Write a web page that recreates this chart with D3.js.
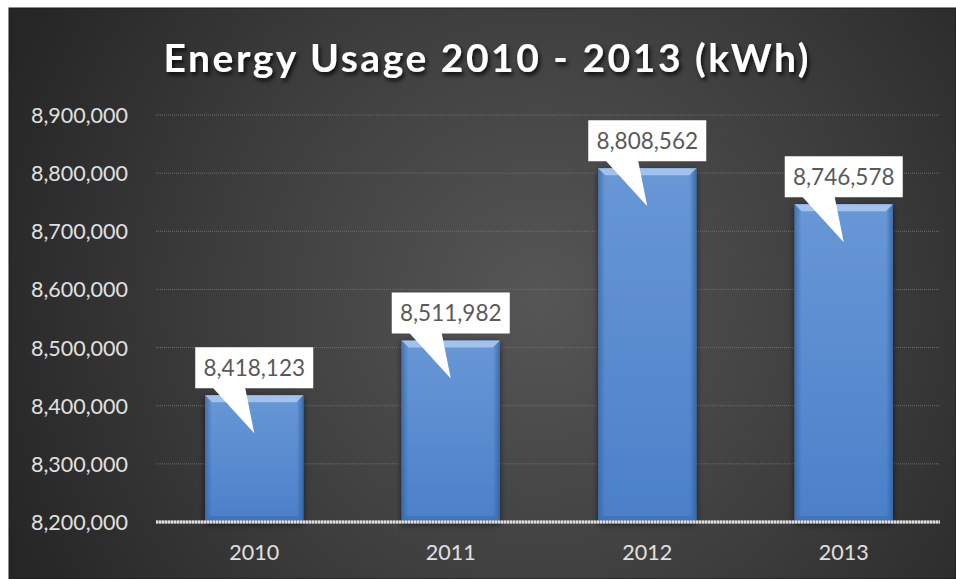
<!DOCTYPE html>
<html>
<head>
<meta charset="utf-8">
<script src="https://cdn.jsdelivr.net/npm/d3@7"></script>
<style>
  html, body { margin: 0; padding: 0; background: #ffffff; }
  svg { display: block; }
</style>
</head>
<body>
<svg id="chart" width="956" height="579"></svg>
<script>
const categories = ["2010", "2011", "2012", "2013"];
const values = [8418123, 8511982, 8808562, 8746578];
const yTicks = [8200000, 8300000, 8400000, 8500000, 8600000, 8700000, 8800000, 8900000];
const titleText = "Energy Usage 2010 - 2013 (kWh)";

const svg = d3.select("#chart");
const frame = { x: 9, y: 8, w: 947, h: 571 };
const plot = { left: 156, right: 942, top: 115, bottom: 522 };

const defs = svg.append("defs");
const bg = defs.append("radialGradient").attr("id", "bg")
  .attr("gradientUnits", "userSpaceOnUse")
  .attr("cx", 540).attr("cy", 300).attr("r", 580);
bg.append("stop").attr("offset", "0%").attr("stop-color", "#565656");
bg.append("stop").attr("offset", "55%").attr("stop-color", "#3d3d3d");
bg.append("stop").attr("offset", "100%").attr("stop-color", "#262626");

const barGrad = defs.append("linearGradient").attr("id", "barGrad")
  .attr("x1", 0).attr("y1", 0).attr("x2", 0).attr("y2", 1);
barGrad.append("stop").attr("offset", "0%").attr("stop-color", "#6897d6");
barGrad.append("stop").attr("offset", "100%").attr("stop-color", "#4b80ca");

const sideGrad = defs.append("linearGradient").attr("id", "sideGrad")
  .attr("x1", 0).attr("y1", 0).attr("x2", 1).attr("y2", 0);
sideGrad.append("stop").attr("offset", "0%").attr("stop-color", "#2c5a98").attr("stop-opacity", 0.6);
sideGrad.append("stop").attr("offset", "7%").attr("stop-color", "#2c5a98").attr("stop-opacity", 0);
sideGrad.append("stop").attr("offset", "93%").attr("stop-color", "#2c5a98").attr("stop-opacity", 0);
sideGrad.append("stop").attr("offset", "100%").attr("stop-color", "#2c5a98").attr("stop-opacity", 0.7);

const shadow = defs.append("filter").attr("id", "shadow")
  .attr("x", "-20%").attr("y", "-20%").attr("width", "140%").attr("height", "140%");
shadow.append("feDropShadow").attr("dx", 0).attr("dy", 2).attr("stdDeviation", 3)
  .attr("flood-color", "#000").attr("flood-opacity", 0.6);

const tshadow = defs.append("filter").attr("id", "tshadow")
  .attr("x", "-10%").attr("y", "-30%").attr("width", "120%").attr("height", "160%");
tshadow.append("feDropShadow").attr("dx", 2).attr("dy", 3).attr("stdDeviation", 2)
  .attr("flood-color", "#000").attr("flood-opacity", 0.8);

// Background frame
svg.append("rect").attr("x", frame.x).attr("y", frame.y)
  .attr("width", frame.w).attr("height", frame.h)
  .attr("fill", "url(#bg)").attr("stroke", "#1a1a1a").attr("stroke-width", 1);

// Title
svg.append("text")
  .attr("x", 486).attr("y", 72)
  .attr("text-anchor", "middle")
  .attr("font-family", "Lato, 'Open Sans', sans-serif")
  .attr("font-weight", "bold")
  .attr("font-size", 39)
  .attr("fill", "#ffffff")
  .attr("textLength", 645).attr("lengthAdjust", "spacing")
  .attr("filter", "url(#tshadow)")
  .text(titleText);

// Scales
const x = d3.scaleBand().domain(categories)
  .range([plot.left, plot.right]).paddingInner(0.5).paddingOuter(0.25);
const y = d3.scaleLinear().domain([8200000, 8900000]).range([plot.bottom, plot.top]);

// Gridlines
svg.append("g").selectAll("line")
  .data(yTicks.filter(d => d !== 8200000))
  .join("line")
  .attr("x1", plot.left).attr("x2", plot.right - 2)
  .attr("y1", d => y(d)).attr("y2", d => y(d))
  .attr("stroke", "#6f6f6f").attr("stroke-width", 1)
  .attr("stroke-dasharray", "1,1");

// Y axis labels
const yAxis = d3.axisLeft(y).tickValues(yTicks).tickFormat(d3.format(",")).tickSize(0).tickPadding(0);
const gy = svg.append("g").attr("transform", "translate(128,0)").call(yAxis);
gy.select(".domain").remove();
gy.selectAll("text")
  .attr("font-family", "Lato, 'Open Sans', sans-serif")
  .attr("font-size", 21.5)
  .attr("fill", "#e0e0e0")
  .attr("dy", "0.35em");

// X axis labels
const xAxis = d3.axisBottom(x).tickSize(0).tickPadding(0);
const gx = svg.append("g").attr("transform", "translate(0,545)").call(xAxis);
gx.select(".domain").remove();
gx.selectAll("text")
  .attr("font-family", "Lato, 'Open Sans', sans-serif")
  .attr("font-size", 21.5)
  .attr("fill", "#e0e0e0")
  .attr("dy", "0.71em");

// Bars
const barData = categories.map((c, i) => ({ c, v: values[i] }));
const bars = svg.append("g").selectAll("g").data(barData).join("g");
bars.append("rect")
  .attr("x", d => x(d.c)).attr("y", d => y(d.v))
  .attr("width", x.bandwidth()).attr("height", d => y(8200000) - y(d.v))
  .attr("fill", "url(#barGrad)")
  .attr("filter", "url(#shadow)");
bars.append("rect")
  .attr("x", d => x(d.c)).attr("y", d => y(d.v))
  .attr("width", x.bandwidth()).attr("height", d => y(8200000) - y(d.v))
  .attr("fill", "url(#sideGrad)");
// top bevel
bars.append("path")
  .attr("d", d => {
    const x0 = x(d.c), x1 = x0 + x.bandwidth(), t = y(d.v), b = 7;
    return `M${x0},${t}L${x1},${t}L${x1 - b},${t + b}L${x0 + b},${t + b}Z`;
  })
  .attr("fill", "#a6c6ef").attr("opacity", 0.9);
// bottom bevel
bars.append("path")
  .attr("d", d => {
    const x0 = x(d.c), x1 = x0 + x.bandwidth(), bt = y(8200000), b = 6;
    return `M${x0},${bt}L${x1},${bt}L${x1 - b},${bt - b}L${x0 + b},${bt - b}Z`;
  })
  .attr("fill", "#3a6cb0").attr("opacity", 0.6);

// Baseline
svg.append("line")
  .attr("x1", plot.left).attr("x2", plot.right - 2)
  .attr("y1", y(8200000)).attr("y2", y(8200000))
  .attr("stroke", "#9a9a9a").attr("stroke-width", 3);
svg.append("line")
  .attr("x1", plot.left).attr("x2", plot.right - 2)
  .attr("y1", y(8200000)).attr("y2", y(8200000))
  .attr("stroke", "#dcdcdc").attr("stroke-width", 3)
  .attr("stroke-dasharray", "2,1");

// Callouts
const fmt = d3.format(",");
const callouts = svg.append("g").selectAll("g").data(barData).join("g");
callouts.append("path")
  .attr("d", d => {
    const cx = x(d.c) + x.bandwidth() / 2;
    const t = y(d.v);
    const bw = 118, bh = 41;
    const bb = t - 7, bt = bb - bh, bl = cx - bw / 2, br = cx + bw / 2;
    return `M${bl},${bt}L${br},${bt}L${br},${bb}L${cx - 9},${bb}L${cx},${t + 38}L${cx - 41},${bb}L${bl},${bb}Z`;
  })
  .attr("fill", "#ffffff");
callouts.append("text")
  .attr("x", d => x(d.c) + x.bandwidth() / 2)
  .attr("y", d => y(d.v) - 7 - 20.5)
  .attr("dy", "0.36em")
  .attr("text-anchor", "middle")
  .attr("font-family", "Lato, 'Open Sans', sans-serif")
  .attr("font-size", 22.5)
  .attr("fill", "#595959")
  .text(d => fmt(d.v));
</script>
</body>
</html>
